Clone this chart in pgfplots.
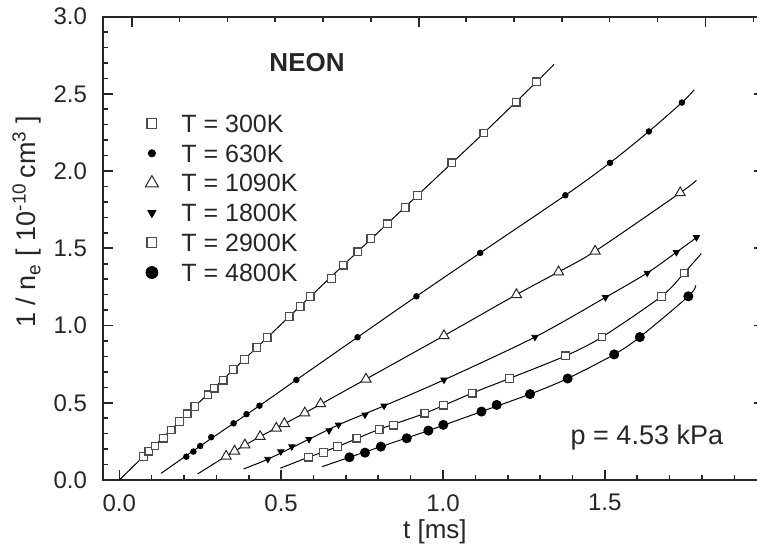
\documentclass[border=0pt]{standalone}
\usepackage{fontspec}
\setmainfont{Liberation Sans}
\usepackage{pgfplots}
\usepackage{pgfplotstable}
\pgfplotsset{compat=1.18}

% measured points: t [ms]  1/n_e [1e-10 cm^3]
\pgfplotstableread{
t y
0.075 0.151
0.091 0.186
0.110 0.220
0.136 0.270
0.160 0.324
0.186 0.378
0.210 0.428
0.233 0.475
0.274 0.551
0.293 0.594
0.321 0.646
0.352 0.716
0.387 0.780
0.425 0.858
0.457 0.922
0.525 1.057
0.559 1.124
0.590 1.189
0.655 1.303
0.692 1.390
0.737 1.477
0.777 1.563
0.829 1.658
0.883 1.765
0.921 1.842
1.027 2.053
1.126 2.246
1.226 2.445
1.289 2.577
}\tA
\pgfplotstableread{
t y
0.207 0.151
0.229 0.184
0.250 0.220
0.284 0.277
0.353 0.367
0.393 0.426
0.433 0.481
0.547 0.648
0.736 0.924
0.918 1.189
1.115 1.470
1.378 1.843
1.516 2.053
1.636 2.256
1.738 2.443
}\tB
\pgfplotstableread{
t y
0.330 0.154
0.356 0.187
0.388 0.227
0.435 0.281
0.485 0.335
0.510 0.365
0.573 0.434
0.622 0.493
0.762 0.653
1.003 0.934
1.227 1.200
1.357 1.347
1.470 1.481
1.733 1.859
}\tC
\pgfplotstableread{
t y
0.459 0.135
0.499 0.184
0.533 0.216
0.586 0.264
0.648 0.320
0.677 0.357
0.759 0.422
0.818 0.480
1.003 0.648
1.284 0.925
1.502 1.182
1.631 1.340
1.721 1.474
1.783 1.570
}\tD
\pgfplotstableread{
t y
0.584 0.147
0.631 0.177
0.674 0.216
0.734 0.270
0.803 0.328
0.847 0.355
0.944 0.432
1.001 0.484
1.090 0.562
1.205 0.657
1.379 0.804
1.491 0.925
1.675 1.189
1.745 1.340
}\tE
\pgfplotstableread{
t y
0.711 0.147
0.759 0.177
0.808 0.216
0.888 0.270
0.955 0.320
1.001 0.357
1.119 0.443
1.166 0.486
1.269 0.556
1.385 0.657
1.529 0.813
1.608 0.925
1.758 1.189
}\tF

% fitted curves through the measurements
\pgfplotstableread{
t y
0.000 0.000
0.233 0.475
0.457 0.922
0.692 1.390
0.921 1.842
1.126 2.246
1.289 2.577
1.343 2.690
}\fA
\pgfplotstableread{
t y
0.129 0.043
0.250 0.220
0.433 0.481
0.547 0.648
0.736 0.924
0.918 1.189
1.115 1.470
1.378 1.843
1.516 2.053
1.636 2.256
1.738 2.443
1.776 2.525
}\fB
\pgfplotstableread{
t y
0.242 0.039
0.330 0.154
0.435 0.281
0.573 0.434
0.762 0.653
1.003 0.934
1.227 1.200
1.357 1.347
1.470 1.481
1.733 1.859
1.783 1.940
}\fC
\pgfplotstableread{
t y
0.384 0.072
0.459 0.135
0.586 0.264
0.677 0.357
0.818 0.480
1.003 0.648
1.284 0.925
1.502 1.182
1.631 1.340
1.721 1.474
1.790 1.580
}\fD
\pgfplotstableread{
t y
0.497 0.076
0.584 0.147
0.674 0.216
0.803 0.328
0.944 0.432
1.090 0.562
1.205 0.657
1.379 0.804
1.491 0.925
1.675 1.189
1.745 1.340
1.798 1.466
}\fE
\pgfplotstableread{
t y
0.626 0.086
0.711 0.147
0.808 0.216
0.955 0.320
1.119 0.443
1.269 0.556
1.385 0.657
1.529 0.813
1.608 0.925
1.758 1.189
1.781 1.260
}\fF

\pgfplotsset{
  frame/.style={
    at={(51.5pt,34pt)}, anchor=south west,
    scale only axis, width=328pt, height=231.75pt,
    xmin=-0.0504, xmax=1.9763, ymin=0, ymax=3,
    tick align=inside,
    tick style={line width=0.8pt, black!85},
  },
  fit/.style={black, line width=0.5pt, smooth, tension=0.5, no marks, forget plot},
}

\begin{document}
\begin{tikzpicture}
\useasboundingbox (0,0) rectangle (378.5pt,274pt);

% unlabelled scale along the top edge
\begin{axis}[frame,
  axis line style={draw=none},
  xtick pos=top, ytick=\empty,
  xtick={0.0383,0.925,1.811},
  minor xtick={0.186,0.334,0.481,0.629,0.777,1.072,1.220,1.368,1.515,1.663,1.959},
  xticklabels={},
  major tick length=5pt, minor tick length=2.5pt,
]
\end{axis}

% short ticks on the right edge
\begin{axis}[frame,
  axis line style={draw=none},
  ytick pos=right, xtick=\empty,
  ytick={0.5,1,1.5,2,2.5},
  yticklabels={},
  major tick length=2.5pt,
]
\end{axis}

\begin{axis}[frame,
  axis line style={line width=1pt, black!85},
  xtick pos=bottom, ytick pos=left,
  xtick={0,0.5,1,1.5},
  minor xtick={0.1,0.2,0.3,0.4,0.6,0.7,0.8,0.9,1.1,1.2,1.3,1.4,1.6,1.7,1.8,1.9},
  ytick={0,0.5,1,1.5,2,2.5,3},
  minor ytick={0.1,0.2,0.3,0.4,0.6,0.7,0.8,0.9,1.1,1.2,1.3,1.4,1.6,1.7,1.8,1.9,2.1,2.2,2.3,2.4,2.6,2.7,2.8,2.9},
  major tick length=5pt, minor tick length=2.7pt,
  ticklabel style={font=\fontsize{12}{14}\selectfont, text=black!85},
  xticklabel style={/pgf/number format/.cd, fixed, fixed zerofill, precision=1, assume math mode=true, /tikz/.cd, yshift=-3.6pt},
  yticklabel style={/pgf/number format/.cd, fixed, fixed zerofill, precision=1, assume math mode=true, /tikz/.cd, xshift=-4.5pt},
  xlabel={t [ms]},
  xlabel style={at={(axis description cs:0.506,-0.111)}, anchor=center, font=\fontsize{13}{15}\selectfont, text=black!85},
  ylabel={1 / n\textsubscript{e} [ 10\textsuperscript{-10}\,cm\textsuperscript{3} ]},
  ylabel style={at={(axis description cs:-0.1159,0.557)}, anchor=center, font=\fontsize{13.5}{15}\selectfont, text=black!85},
  legend cell align=left,
  legend image post style={every mark/.append style={scale=1.3}},
  legend style={draw=none, fill=none, inner sep=0pt,
    at={(axis description cs:0.064,0.789)}, anchor=north west,
    font=\fontsize{12.5}{14}\selectfont, text=black!85,
    nodes={inner sep=0pt, text height=8.8pt, text depth=0pt},
    row sep=6.1pt, column sep=11.5pt},
]
\addplot[fit] table[x=t,y=y] {\fA};
\addplot[fit] table[x=t,y=y] {\fB};
\addplot[fit] table[x=t,y=y] {\fC};
\addplot[fit] table[x=t,y=y] {\fD};
\addplot[fit] table[x=t,y=y] {\fE};
\addplot[fit] table[x=t,y=y] {\fF};

\addplot[only marks, mark=square*, mark size=1.9pt,
  mark options={draw=black!70, fill=white, line width=0.6pt}] table[x=t,y=y] {\tA};
\addlegendentry{T = 300K}
\addplot[only marks, mark=*, mark size=1.4pt,
  mark options={draw=black, fill=black}] table[x=t,y=y] {\tB};
\addlegendentry{T = 630K}
\addplot[only marks, mark=triangle*, mark size=2.9pt,
  mark options={draw=black!85, fill=white, line width=0.5pt}] table[x=t,y=y] {\tC};
\addlegendentry{T = 1090K}
\addplot[only marks, mark=triangle*, mark size=1.8pt,
  mark options={draw=black, fill=black, rotate=180}] table[x=t,y=y] {\tD};
\addlegendentry{T = 1800K}
\addplot[only marks, mark=square*, mark size=1.9pt,
  mark options={draw=black!70, fill=white, line width=0.6pt}] table[x=t,y=y] {\tE};
\addlegendentry{T = 2900K}
\addplot[only marks, mark=*, mark size=2.3pt,
  mark options={draw=black, fill=black}] table[x=t,y=y] {\tF};
\addlegendentry{T = 4800K}

\node[font=\fontsize{13}{15}\selectfont\bfseries, text=black!85] at (axis cs:0.580,2.702) {NEON};
\node[font=\fontsize{13.5}{15}\selectfont, text=black!85] at (axis cs:1.630,0.278) {p = 4.53 kPa};
\end{axis}
\end{tikzpicture}
\end{document}
